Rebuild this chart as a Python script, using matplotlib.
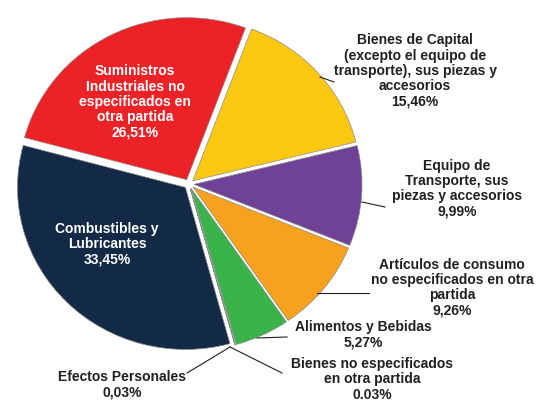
import matplotlib
matplotlib.use('Agg')
import matplotlib.pyplot as plt
from matplotlib.lines import Line2D

# ---- data ----
categories = [
    "Bienes de Capital\n(excepto el equipo de\ntransporte), sus piezas y\naccesorios",
    "Equipo de\nTransporte, sus\npiezas y accesorios",
    "Artículos de consumo\nno especificados en otra\npartida",
    "Alimentos y Bebidas",
    "Bienes no especificados\nen otra partida",
    "Efectos Personales",
    "Combustibles y\nLubricantes",
    "Suministros\nIndustriales no\nespecificados en\notra partida",
]
values = [15.46, 9.99, 9.26, 5.27, 0.03, 0.03, 33.45, 26.51]
pct_labels = ["15,46%", "9,99%", "9,26%", "5,27%", "0.03%", "0,03%", "33,45%", "26,51%"]
colors = ["#FCC812", "#6F4197", "#F6A21E", "#3AB44A", "#9A9A9A", "#9A9A9A", "#132A46", "#EC2227"]

# ---- layout (pixels) ----
W, H = 537, 401
CX, CY, RX, RY = 189, 184, 168, 162
LIM = 1.1
label_pos = [(415, 71), (457, 188.5), (452, 287.5), (363, 335), (372, 379.5), (122, 385), (107, 244), (135, 102)]
label_color = ["#231F20"] * 6 + ["white", "white"]
leaders = [
    ((320, 77), (334, 82)),
    ((362, 202), (385, 207)),
    ((317, 293), (369, 293)),
    ((257, 338), (287, 337)),
    ((230, 347), (282, 373)),
    ((230, 347), (187, 373)),
]

fig = plt.figure(figsize=(W / 100, H / 100), dpi=100)
ax = fig.add_axes([(CX - LIM * RX) / W, (H - CY - LIM * RY) / H,
                   2 * LIM * RX / W, 2 * LIM * RY / H])
ax.pie(values, colors=colors, startangle=69.5, counterclock=False,
       explode=[0.03] * len(values),
       wedgeprops=dict(edgecolor="#8c8c8c", linewidth=0.5))
ax.set_xlim(-LIM, LIM)
ax.set_ylim(-LIM, LIM)
ax.set_aspect("auto")
ax.axis("off")

def fx(x):
    return x / W

def fy(y):
    return 1 - y / H

for (p0, p1) in leaders:
    fig.add_artist(Line2D([fx(p0[0]), fx(p1[0])], [fy(p0[1]), fy(p1[1])],
                          transform=fig.transFigure, color="#231F20", lw=0.8))

for name, pct, (x, y), c in zip(categories, pct_labels, label_pos, label_color):
    fig.text(fx(x), fy(y), name + "\n" + pct, ha="center", va="center",
             multialignment="center", fontsize=10, fontweight="bold",
             family=["Liberation Sans", "DejaVu Sans"], color=c, linespacing=1.12)

fig.savefig("out.png", dpi=100)
